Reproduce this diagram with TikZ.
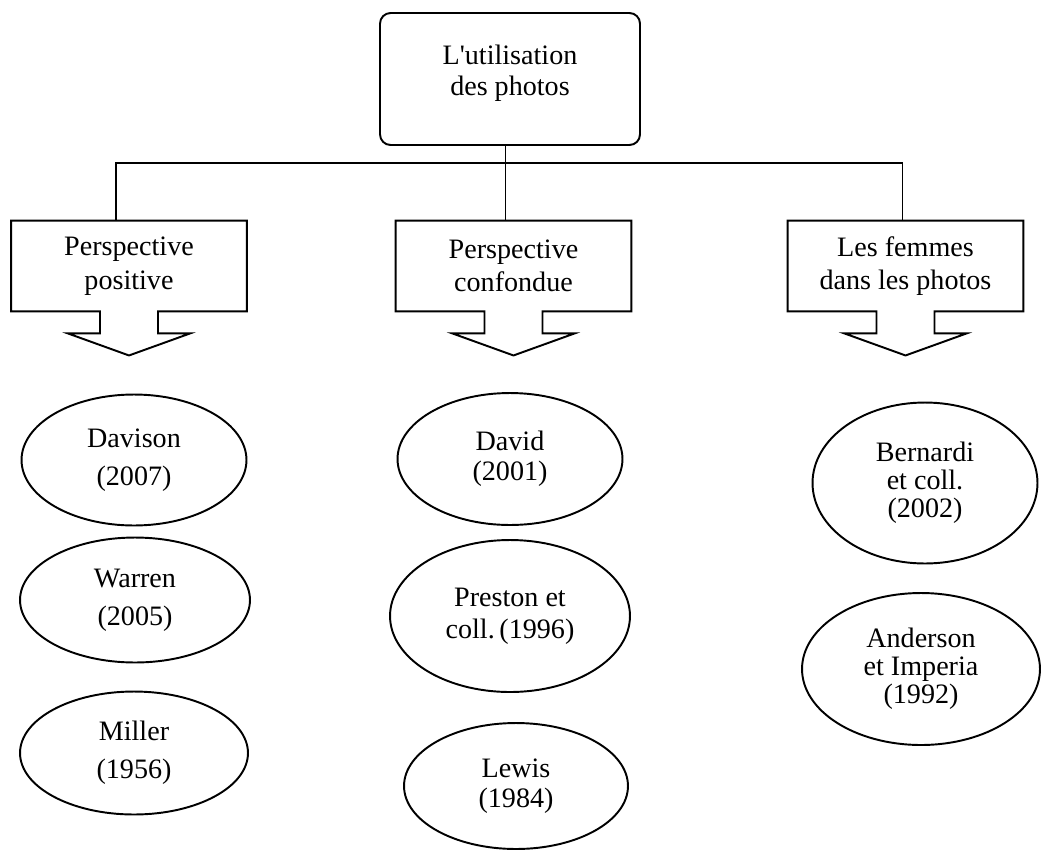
\documentclass[tikz,border=0pt]{standalone}
\usepackage{fontspec}
\setmainfont{Liberation Serif}[Ligatures=TeXOff]
\usetikzlibrary{shapes.geometric}
\usetikzlibrary{calc}

\begin{document}
\begin{tikzpicture}[x=0.02cm,y=-0.02cm,line width=1.1pt,
    topbox/.style={draw,rounded corners=6pt,minimum width=5.2cm,minimum height=2.64cm,align=center,font=\fontsize{16}{17.5}\selectfont},
    callbox/.style={minimum width=4.68cm,minimum height=1.78cm,align=center,font=\fontsize{16}{19}\selectfont},
    refell/.style={draw,ellipse,inner sep=1pt,align=center}]
  \useasboundingbox (0,0) rectangle (1041,849);
  \node[topbox] (util) at (510,79) {L'utilisation\\des photos\\[-7.5pt]};
  \node[callbox] (ppos) at (129,266) {Perspective\\positive};
  \node[callbox] (pcon) at (513.5,266) {Perspective\\confondue};
  \node[callbox] (fem) at (905.5,266) {Les femmes\\dans les photos};
  % tree lines
  \coordinate (bar) at (0,163);
  \coordinate (ja) at ($(ppos.north)+(-13,0)$);
  \coordinate (jb) at ($(pcon.north)+(-8,0)$);
  \coordinate (jc) at ($(fem.north)+(-3,0)$);
  \draw (util.south -| jb) -- (jb);
  \draw (ja) -- (ja |- bar) -- (jc |- bar) -- (jc);
  % callout outlines
  \foreach \b in {ppos,pcon,fem}{
    \draw[line join=miter] (\b.south west) -- (\b.north west) -- (\b.north east) -- (\b.south east)
      -- ($(\b.south)+(29,0)$) -- ++(0,22) -- ++(32,0) -- ++(-61,22) -- ++(-61,-22) -- ++(32,0) -- ++(0,-22) -- cycle;
  }
  % left column
  \node[refell,minimum width=4.5cm,minimum height=2.62cm,font=\fontsize{16}{21.5}\selectfont] (dav) at (134,460) {Davison\\(2007)};
  \node[refell,minimum width=4.6cm,minimum height=2.5cm,font=\fontsize{16}{21.5}\selectfont] (war) at (135,600) {Warren\\(2005)};
  \node[refell,minimum width=4.56cm,minimum height=2.46cm,font=\fontsize{16}{21.5}\selectfont] (mil) at (134,753) {Miller\\(1956)};
  % middle column
  \node[refell,minimum width=4.5cm,minimum height=2.64cm,font=\fontsize{16}{17}\selectfont] (dvd) at (510,459) {David\\(2001)};
  \node[refell,minimum width=4.8cm,minimum height=3.04cm,font=\fontsize{16}{18}\selectfont] (pre) at (510,616) {Preston et\\coll.\,(1996)};
  \node[refell,minimum width=4.48cm,minimum height=2.52cm,font=\fontsize{16}{17}\selectfont] (lew) at (516,786) {Lewis\\(1984)};
  % right column
  \node[refell,minimum width=4.5cm,minimum height=3.22cm,font=\fontsize{16}{16}\selectfont] (ber) at (925,483) {Bernardi\\et coll.\\(2002)};
  \node[refell,minimum width=4.76cm,minimum height=3.04cm,font=\fontsize{16}{16}\selectfont] (and) at (921,669) {Anderson\\et Imperia\\(1992)};
\end{tikzpicture}
\end{document}
